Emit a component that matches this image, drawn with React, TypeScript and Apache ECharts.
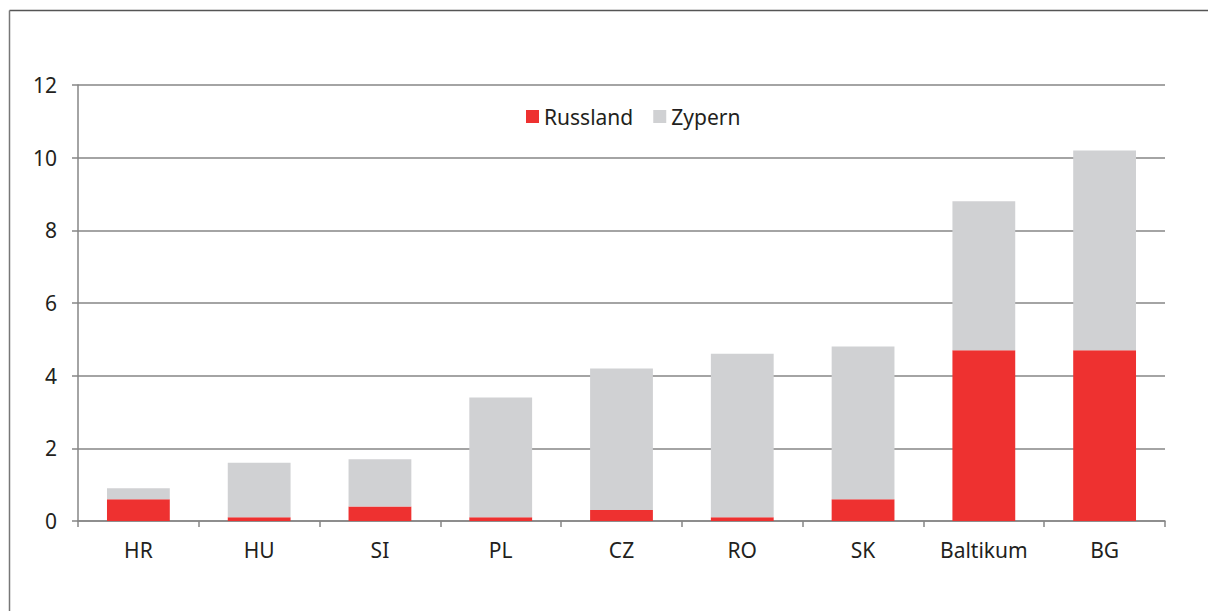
import React, { useEffect, useRef } from "react";
import * as echarts from "echarts";

const categories = ["HR", "HU", "SI", "PL", "CZ", "RO", "SK", "Baltikum", "BG"];
const russland = [0.6, 0.1, 0.4, 0.1, 0.3, 0.1, 0.6, 4.7, 4.7];
const zypern = [0.3, 1.5, 1.3, 3.3, 3.9, 4.5, 4.2, 4.1, 5.5];
const yTicks = [0, 2, 4, 6, 8, 10, 12];

const FONT = "'Noto Sans', sans-serif";
const AXIS_GRAY = "#868686";

export default function App() {
  const ref = useRef<HTMLDivElement>(null);
  useEffect(() => {
    if (!ref.current) return;
    const chart = echarts.init(ref.current, null, { renderer: "svg" });
    chart.setOption({
      animation: false,
      backgroundColor: "#ffffff",
      graphic: [
        {
          type: "line",
          shape: { x1: 9.5, y1: 10.5, x2: 1208, y2: 10.5 },
          style: { stroke: "#555555", lineWidth: 1.5 },
          silent: true,
        },
        {
          type: "line",
          shape: { x1: 9.5, y1: 10.5, x2: 9.5, y2: 611 },
          style: { stroke: "#777777", lineWidth: 1.5 },
          silent: true,
        },
      ],
      legend: {
        top: 101,
        left: 521,
        itemWidth: 13,
        itemHeight: 13,
        itemGap: 20,
        icon: "rect",
        textStyle: { fontFamily: FONT, fontSize: 21, color: "#231f20", padding: [0, 0, 0, 0] },
        data: ["Russland", "Zypern"],
      },
      grid: { left: 78, right: 43, top: 85, bottom: 90, containLabel: false },
      xAxis: {
        type: "category",
        data: categories,
        axisLine: { show: true, lineStyle: { color: AXIS_GRAY, width: 1.5 } },
        axisTick: { show: true, length: 6, alignWithLabel: false, lineStyle: { color: AXIS_GRAY, width: 1.5 } },
        axisLabel: { margin: 18, fontFamily: FONT, fontSize: 21, color: "#231f20" },
      },
      yAxis: {
        type: "value",
        min: yTicks[0],
        max: yTicks[yTicks.length - 1],
        interval: 2,
        axisLine: { show: true, lineStyle: { color: AXIS_GRAY, width: 1.5 } },
        axisTick: { show: true, length: 6, lineStyle: { color: AXIS_GRAY, width: 1.5 } },
        splitLine: { show: true, lineStyle: { color: AXIS_GRAY, width: 1.5 } },
        axisLabel: { margin: 21, fontFamily: FONT, fontSize: 21, color: "#231f20" },
      },
      series: [
        {
          name: "Russland",
          type: "bar",
          stack: "total",
          data: russland,
          barWidth: "52%",
          itemStyle: { color: "#ee3130" },
        },
        {
          name: "Zypern",
          type: "bar",
          stack: "total",
          data: zypern,
          barWidth: "52%",
          itemStyle: { color: "#d0d1d3" },
        },
      ],
    });
    return () => chart.dispose();
  }, []);
  return (
    <div
      ref={ref}
      style={{ position: "fixed", left: 0, top: 0, width: 1208, height: 611 }}
    />
  );
}
